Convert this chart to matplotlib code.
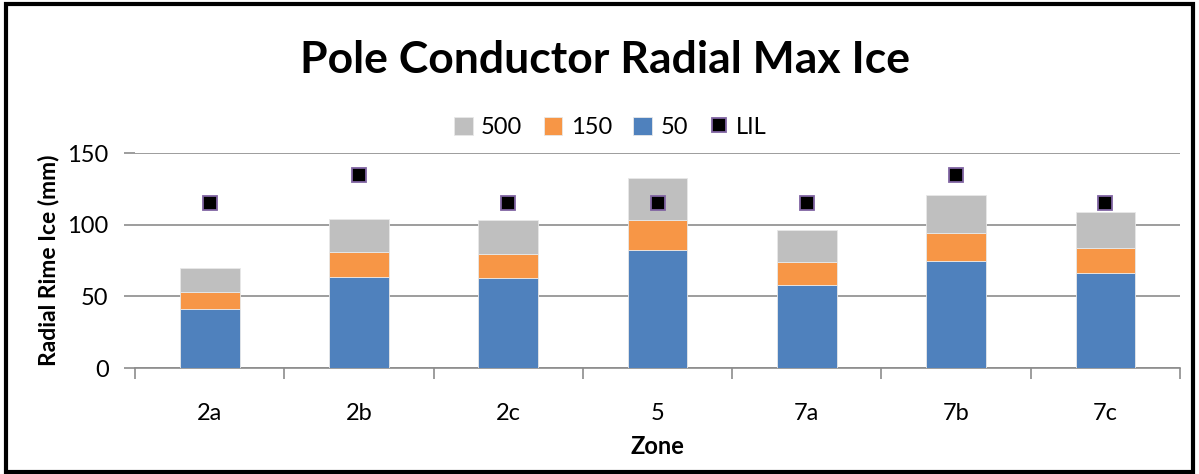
import numpy as np
import matplotlib.pyplot as plt
from matplotlib.patches import Rectangle

plt.rcParams['font.family'] = ['Lato', 'DejaVu Sans']

zones = ['2a', '2b', '2c', '5', '7a', '7b', '7c']
# stacked segment heights, mm
ice_50 = [41, 63.5, 62.5, 82.5, 58, 74.5, 66]
ice_150 = [12, 17.5, 17, 21, 16, 19.5, 18]
ice_500 = [17, 23, 23.5, 29, 22, 27, 24.5]
lil = [115, 135, 115, 115, 115, 135, 115]

c_blue = '#4F81BD'
c_orange = '#F79646'
c_grey = '#BFBFBF'
grid_c = '#8C8C8C'

fig = plt.figure(figsize=(11.99, 4.74), dpi=100)
ax = fig.add_axes([0.1126, 0.2236, 0.8716, 0.4536])

x = np.arange(len(zones))
w = 0.4
b50 = np.array(ice_50)
b150 = b50 + np.array(ice_150)
ax.bar(x, ice_50, w, color=c_blue, edgecolor='#E8E8E8', linewidth=0.6, label='50', zorder=3)
ax.bar(x, ice_150, w, bottom=b50, color=c_orange, edgecolor='#E8E8E8', linewidth=0.6, label='150', zorder=3)
ax.bar(x, ice_500, w, bottom=b150, color=c_grey, edgecolor='#E8E8E8', linewidth=0.6, label='500', zorder=3)
ax.plot(x, lil, linestyle='none', marker='s', markersize=10, markerfacecolor='black',
        markeredgecolor='#8064A2', markeredgewidth=1.3, label='LIL', zorder=4)

ax.set_xlim(-0.5, len(zones) - 0.5)
ax.set_ylim(0, 150)
ax.set_yticks([0, 50, 100, 150])
ax.yaxis.grid(True, color=grid_c, linewidth=1.2, zorder=0)
ax.set_axisbelow(True)

# category boundaries carry the tick marks, names sit at the centres
ax.set_xticks(np.arange(-0.5, len(zones)), minor=False)
ax.set_xticklabels([''] * (len(zones) + 1))
ax.set_xticks(x, minor=True)
ax.set_xticklabels(zones, minor=True)
ax.tick_params(axis='x', which='major', length=8, width=1.2, color=grid_c, direction='out')
ax.tick_params(axis='x', which='minor', length=0, pad=25, labelsize=17)
ax.tick_params(axis='y', length=8, width=1.2, color=grid_c, direction='out', pad=11, labelsize=17)

for s in ['top', 'right']:
    ax.spines[s].set_visible(False)
ax.spines['left'].set_visible(False)
ax.spines['bottom'].set_color(grid_c)
ax.spines['bottom'].set_linewidth(1.2)

ax.set_ylabel('Radial Rime Ice (mm)', fontsize=16.5, fontweight='bold', labelpad=6)
ax.set_xlabel('Zone', fontsize=17, fontweight='bold', labelpad=8)

fig.text(0.505, 0.873, 'Pole Conductor Radial Max Ice', ha='center', va='center',
         fontsize=32, fontweight='bold')

h, l = ax.get_legend_handles_labels()
order = [l.index(k) for k in ['500', '150', '50', 'LIL']]
ax.legend([h[i] for i in order], [l[i] for i in order], loc='center',
          bbox_to_anchor=(0.455, 1.12), ncol=4, frameon=False, fontsize=17,
          handlelength=0.8, handleheight=0.8, handletextpad=0.35, columnspacing=0.9)

fig.patches.append(Rectangle((0.005, 0.004), 0.99, 0.988, transform=fig.transFigure,
                             fill=False, edgecolor='black', linewidth=3))

fig.savefig('out.png', dpi=100)
